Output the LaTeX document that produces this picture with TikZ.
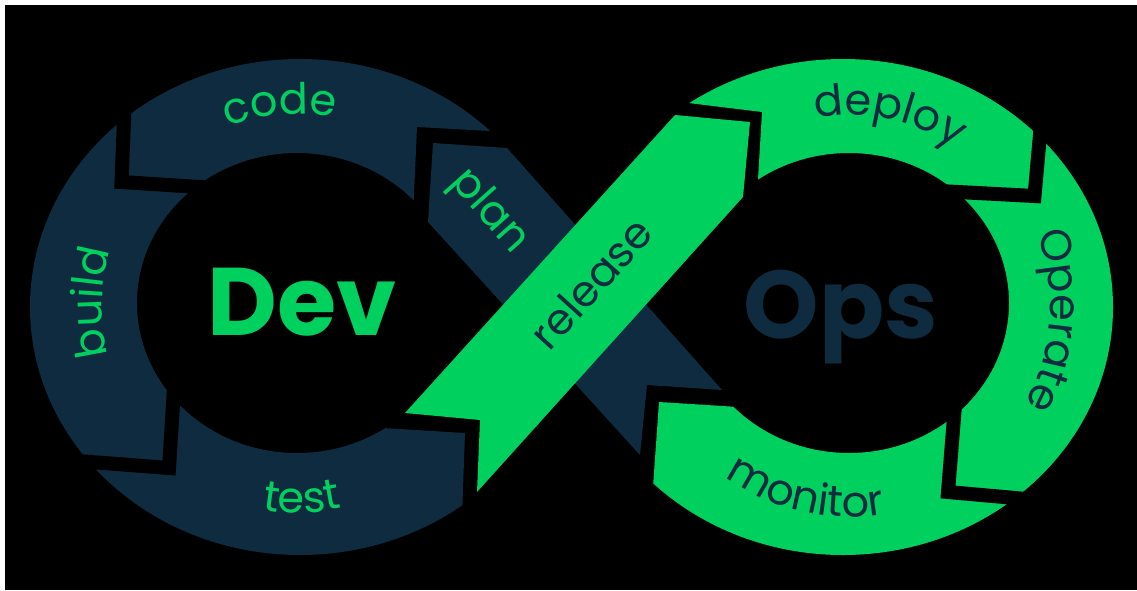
\documentclass[tikz,border=0pt]{standalone}
\usepackage{fontspec}
\setmainfont{Poppins}
\usetikzlibrary{calc,decorations.text}
\definecolor{dgreen}{HTML}{00D15E}
\definecolor{navy}{HTML}{0E2B3F}
\newcommand\lblfont{\fontsize{43}{50}\selectfont}
\newcommand\bigfont{\fontsize{96}{110}\selectfont\bfseries}
\tikzset{
  gap/.style={draw=black, line width=14pt, line join=miter, miter limit=10},
  arclabel/.style={decorate, decoration={text along path, text align=center, text={#1}}},
  bandlabel/.style={font=\lblfont, inner sep=0pt}
}
\begin{document}
\begin{tikzpicture}[x=1pt,y=-1pt]
\useasboundingbox (0,0) rectangle (1137,590);
\fill[white] (0,0) rectangle (1137,590);
\fill[black] (5,5) rectangle (1137,590);

% Dev ring
\begin{scope}
\clip (-10,-10) -- (600,-10) -- (600,137) -- (417,127) -- (412,240) -- (350,426) -- (465,433) -- (459,600) -- (-10,600) -- cycle;
\fill[navy, even odd rule] (300,307) ellipse[x radius=270, y radius=248] (297,303) ellipse[x radius=160, y radius=150];
\end{scope}

% Ops ring
\begin{scope}
\clip (1250,-10) -- (590,-10) -- (590,91) -- (762,112) -- (755,230) -- (770,409) -- (659,402) -- (645,600) -- (1250,600) -- cycle;
\fill[dgreen, even odd rule] (843,307) ellipse[x radius=270, y radius=248] (849,303) ellipse[x radius=160, y radius=150];
\end{scope}

% gaps between segments
\draw[gap] (125,95) -- (121.5,182) -- (215,188);
\draw[gap] (174.5,380) -- (169,468) -- (65,460);
\draw[gap] (1044,90) -- (1034.5,196) -- (920,190);
\draw[gap] (957,380) -- (948,492) -- (1060,502);

% diagonal bands
\fill[navy] (433,143) -- (507,148) -- (722,390) -- (647,385) -- (640,455) -- (428,222) -- cycle;
\fill[dgreen] (405,413) -- (675,115) -- (750,122) -- (743,197) -- (477,492) -- (480,420) -- cycle;

% big words
\node[font=\bigfont, text=dgreen, anchor=base, inner sep=0pt] (dev) at (302,335) {Dev};
\node[font=\bigfont, text=navy, anchor=base, inner sep=0pt] (ops) at (841,338) {Ops};

% straight labels
\node[bandlabel, text=dgreen, rotate=-48.4] (plan) at (489,212) {plan};
\node[bandlabel, text=navy, rotate=47.8] (release) at (591,283) {release};

% curved labels
\path[arclabel={|\lblfont\color{dgreen}|code}] ($(297,306)+(240:192)$) arc[start angle=240, end angle=290, radius=192];
\path[arclabel={|\lblfont\color{dgreen}|build}] ($(297,306)+(150:195)$) arc[start angle=150, end angle=212, radius=195];
\path[arclabel={|\lblfont\color{dgreen}|test}] ($(297,306)+(118:207)$) arc[start angle=118, end angle=59, radius=207];
\path[arclabel={|\lblfont\color{navy}|deploy}] ($(849,306)+(252:191)$) arc[start angle=252, end angle=312, radius=191];
\path[arclabel={|\lblfont\color{navy}|Operate}] ($(849,306)+(-31:201)$) arc[start angle=-31, end angle=39, radius=201];
\path[arclabel={|\lblfont\color{navy}|monitor}] ($(849,306)+(135:211)$) arc[start angle=135, end angle=71, radius=211];
\end{tikzpicture}
\end{document}
